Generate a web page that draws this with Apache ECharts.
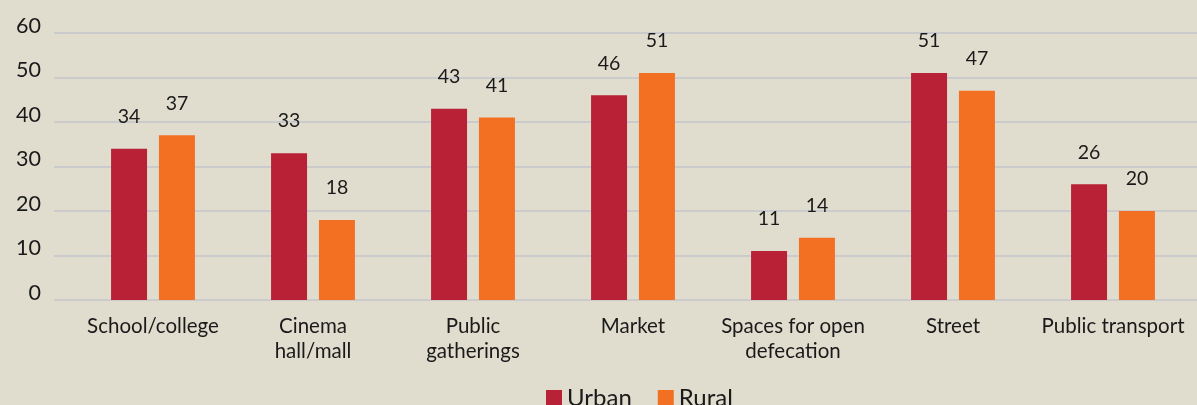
<!DOCTYPE html>
<html>
	<head>
		<meta charset="utf-8" />
		<title>Places</title>
		<script src="https://cdn.jsdelivr.net/npm/echarts@6/dist/echarts.min.js"></script>
		<style>
			html, body { margin: 0; padding: 0; background: #e0ddce; }
			#chart { width: 1197px; height: 405px; }
		</style>
	</head>
	<body>
		<div id="chart"></div>
	<script type="text/javascript">
		// 数据
		var categories = ['School/college', 'Cinema\nhall/mall', 'Public\ngatherings', 'Market', 'Spaces for open\ndefecation', 'Street', 'Public transport'];
		var urban = [34, 33, 43, 46, 11, 51, 26];
		var rural = [37, 18, 41, 51, 14, 47, 20];
		var yTicks = [0, 10, 20, 30, 40, 50, 60];

		var myChart = echarts.init(document.getElementById('chart'));
		var fontName = 'Lato, "Open Sans", sans-serif';

		var option = {
			backgroundColor: '#e0ddce',
			animation: false,
			textStyle: { fontFamily: fontName },
			legend: {
				bottom: -10,
				left: 541,
				itemWidth: 16,
				itemHeight: 16,
				itemGap: 26,
				icon: 'rect',
				textStyle: { fontSize: 24, color: '#1a1a1a', fontFamily: fontName },
				data: ['Urban', 'Rural']
			},
			grid: [
				// gridlines + y labels
				{ left: 54, right: 0, top: 33, bottom: 105, containLabel: false },
				// bars
				{ left: 73, right: 4, top: 33, bottom: 105, containLabel: false }
			],
			xAxis: [
				{ type: 'category', gridIndex: 0, data: categories, show: false },
				{
					type: 'category', gridIndex: 1, data: categories,
					axisLine: { show: false },
					axisTick: { show: false },
					axisLabel: {
						interval: 0,
						margin: 14,
						fontSize: 20.5,
						lineHeight: 25,
						color: '#1a1a1a',
						fontFamily: fontName
					}
				}
			],
			yAxis: [
				{
					type: 'value', gridIndex: 0, min: yTicks[0], max: yTicks[yTicks.length - 1], interval: 10,
					axisLine: { show: false },
					axisTick: { show: false },
					splitLine: { lineStyle: { color: '#cbcacd', width: 2 } },
					axisLabel: {
						margin: 13,
						fontSize: 21.5,
						lineHeight: 14,
						verticalAlign: 'bottom',
						color: '#1a1a1a',
						fontFamily: fontName
					}
				},
				{
					type: 'value', gridIndex: 1, min: yTicks[0], max: yTicks[yTicks.length - 1], interval: 10,
					show: false
				}
			],
			series: [
				{
					name: 'Urban', type: 'bar', xAxisIndex: 1, yAxisIndex: 1,
					data: urban, barWidth: 36, barGap: '33%',
					itemStyle: { color: '#b92136' },
					label: { show: true, position: 'top', distance: 22, fontSize: 19.5, color: '#1a1a1a', fontFamily: fontName }
				},
				{
					name: 'Rural', type: 'bar', xAxisIndex: 1, yAxisIndex: 1,
					data: rural, barWidth: 36, barGap: '33%',
					itemStyle: { color: '#f37022' },
					label: { show: true, position: 'top', distance: 22, fontSize: 19.5, color: '#1a1a1a', fontFamily: fontName }
				}
			]
		};

		myChart.setOption(option);
	</script>
	</body>
</html>
